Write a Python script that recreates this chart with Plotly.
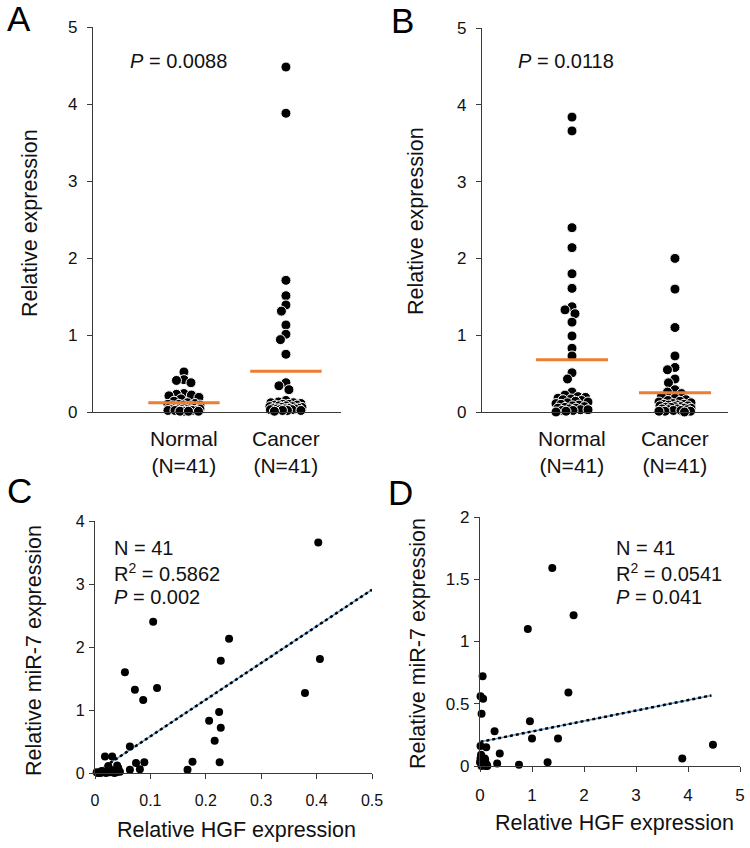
import math
import plotly.graph_objects as go

W, H = 750, 848

# ---------------- data ----------------
groups = ["Normal", "Cancer"]
group_label = "(N=41)"

A_normal = [0.52, 0.42, 0.41, 0.38, 0.24, 0.23, 0.22, 0.21, 0.19, 0.17, 0.14, 0.12, 0.11, 0.10,
            0.10, 0.09, 0.09, 0.08, 0.08, 0.07, 0.07, 0.06, 0.06, 0.05, 0.05, 0.05, 0.04, 0.04,
            0.04, 0.03, 0.03, 0.03, 0.03, 0.02, 0.02, 0.02, 0.02, 0.01, 0.01, 0.01, 0.01]
A_cancer = [4.48, 3.88, 1.71, 1.51, 1.39, 1.31, 1.13, 1.01, 0.94, 0.75, 0.38, 0.34, 0.29,
            0.15, 0.13, 0.12, 0.12, 0.11, 0.10, 0.10, 0.09, 0.09, 0.08, 0.08, 0.07, 0.07,
            0.06, 0.06, 0.05, 0.05, 0.05, 0.04, 0.04, 0.04, 0.03, 0.03, 0.03, 0.02, 0.02,
            0.02, 0.01]
A_means = [0.12, 0.53]
A_p = "0.0088"

B_normal = [3.84, 3.66, 2.40, 2.14, 1.80, 1.61, 1.37, 1.33, 1.28, 1.17, 0.99, 0.83, 0.73,
            0.51, 0.43, 0.26, 0.22, 0.20, 0.19, 0.18, 0.17, 0.16, 0.15, 0.14, 0.13, 0.12,
            0.11, 0.10, 0.09, 0.08, 0.07, 0.06, 0.05, 0.05, 0.04, 0.03, 0.03, 0.02, 0.02,
            0.01, 0.00]
B_cancer = [2.00, 1.60, 1.10, 0.73, 0.58, 0.55, 0.43, 0.38, 0.29, 0.26, 0.24, 0.20, 0.18,
            0.16, 0.15, 0.14, 0.13, 0.12, 0.11, 0.10, 0.10, 0.09, 0.09, 0.08, 0.08, 0.07,
            0.07, 0.06, 0.06, 0.05, 0.05, 0.04, 0.04, 0.03, 0.03, 0.02, 0.02, 0.01, 0.01,
            0.01, 0.00]
B_means = [0.68, 0.25]
B_p = "0.0118"

C_x = [0.403, 0.406, 0.379, 0.242, 0.227, 0.105, 0.054, 0.072, 0.112, 0.087, 0.224, 0.206,
       0.227, 0.216, 0.225, 0.176, 0.167, 0.063, 0.063, 0.074, 0.089, 0.081, 0.018, 0.031,
       0.024, 0.042, 0.033, 0.003, 0.009, 0.012, 0.039, 0.027, 0.005, 0.015, 0.020, 0.036,
       0.045, 0.028, 0.010, 0.040, 0.035]
C_y = [3.66, 1.81, 1.27, 2.13, 1.78, 2.40, 1.60, 1.32, 1.35, 1.16, 0.97, 0.83, 0.72, 0.51,
       0.17, 0.18, 0.05, 0.42, 0.05, 0.16, 0.17, 0.06, 0.26, 0.26, 0.11, 0.08, 0.03, 0.01,
       0.01, 0.03, 0.01, 0.01, 0.00, 0.02, 0.00, 0.04, 0.02, 0.05, 0.00, 0.12, 0.00]
C_trend_x = [0.0, 0.5]
C_trend_y = [0.0, 2.91]
C_stats = ["N = 41", "R<sup>2</sup> = 0.5862", "<i>P</i> = 0.002"]

D_x = [1.39, 1.80, 0.92, 1.70, 0.05, 0.01, 0.06, 0.03, 0.96, 0.28, 1.00, 1.50, 4.48, 3.89,
       0.01, 0.12, 0.38, 0.33, 0.75, 1.30, 0.01, 0.10, 0.03, 0.13, 0.06, 0.02, 0.04, 0.08,
       0.11, 0.05, 0.07, 0.00, 0.09, 0.14, 0.02, 0.06, 0.04, 0.10, 0.03, 0.08, 0.12]
D_y = [1.59, 1.21, 1.10, 0.59, 0.72, 0.56, 0.54, 0.42, 0.36, 0.28, 0.22, 0.22, 0.17, 0.06,
       0.16, 0.15, 0.10, 0.02, 0.01, 0.03, 0.06, 0.03, 0.02, 0.01, 0.05, 0.04, 0.07, 0.02,
       0.00, 0.01, 0.04, 0.03, 0.06, 0.00, 0.09, 0.02, 0.01, 0.05, 0.00, 0.03, 0.01]
D_trend_x = [0.01, 4.45]
D_trend_y = [0.194, 0.567]
D_stats = ["N = 41", "R<sup>2</sup> = 0.0541", "<i>P</i> = 0.041"]

# ---------------- layout (pixels) ----------------
FONT = "Liberation Sans, Arial, sans-serif"
AXC = "#3a3a3a"
TXT = "#111111"
ORANGE = "#ED7D31"
BLUE = "#5B9BD5"

def fx(px):
    return px / W

def fy(py):
    return 1 - py / H

panels = {
    "A": dict(l=93, r=341, t=27, b=412, xr=[0.108, 2.54], yr=[0, 5], tf=17),
    "B": dict(l=482, r=728, t=28, b=412, xr=[0.126, 2.515], yr=[0, 5], tf=17),
    "C": dict(l=95, r=372, t=521, b=773, xr=[0, 0.5], yr=[0, 4], tf=16),
    "D": dict(l=480, r=740, t=517, b=766, xr=[0, 5], yr=[0, 2], tf=17),
}


def swarm(values, center, ppx, ppy, dmin, maxw):
    """Compact beeswarm: offset (px) that keeps points apart, limited to +-maxw."""
    placed = []
    out = []
    steps = [i * 0.5 for i in range(int(-maxw * 2), int(maxw * 2) + 1)]
    for v in values:
        y = v * ppy
        best, best_key = 0.0, None
        for c in steps:
            if placed:
                d = min(math.hypot(c - px, y - py) for (px, py) in placed)
            else:
                d = dmin
            key = (-min(d, dmin), abs(c), c)
            if best_key is None or key < best_key:
                best_key, best = key, c
        placed.append((best, y))
        out.append(center + best / ppx)
    return out


fig = go.Figure()
annotations = []

axis_ids = {"A": ("x", "y"), "B": ("x2", "y2"), "C": ("x3", "y3"), "D": ("x4", "y4")}

for key, p in panels.items():
    n = {"A": "", "B": "2", "C": "3", "D": "4"}[key]
    tfont = dict(size=p["tf"], color=TXT, family=FONT)
    xa = dict(domain=[fx(p["l"]), fx(p["r"])], range=p["xr"], anchor="y" + n,
              showline=True, linecolor=AXC, linewidth=1.2, showgrid=False, zeroline=False,
              automargin=False, tickfont=tfont, fixedrange=True)
    ya = dict(domain=[fy(p["b"]), fy(p["t"])], range=p["yr"], anchor="x" + n,
              showline=True, linecolor=AXC, linewidth=1.2, showgrid=False, zeroline=False,
              automargin=False,
              ticks="outside", ticklen=5, tickcolor=AXC, tickwidth=1.2,
              tickfont=tfont, fixedrange=True)
    if key in ("A", "B"):
        xa.update(showticklabels=False, ticks="")
        ya.update(dtick=1, ticklabelstandoff=6)
    else:
        xa.update(ticks="outside", ticklen=5, tickcolor=AXC, tickwidth=1.2, ticklabelstandoff=8)
        if key == "C":
            xa.update(dtick=0.1)
            ya.update(dtick=1, ticklabelstandoff=1)
        else:
            xa.update(dtick=1)
            ya.update(dtick=0.5, ticklabelstandoff=1)
    fig.update_layout(**{"xaxis" + n: xa, "yaxis" + n: ya})

# ---- swarm panels A, B ----
for key, normal, cancer, means, pval, ptxt_x in (
    ("A", A_normal, A_cancer, A_means, A_p, 128),
    ("B", B_normal, B_cancer, B_means, B_p, 516),
):
    p = panels[key]
    xr, yr = p["xr"], p["yr"]
    ppx = (p["r"] - p["l"]) / (xr[1] - xr[0])
    ppy = (p["b"] - p["t"]) / (yr[1] - yr[0])
    xref, yref = axis_ids[key]
    for gi, vals in enumerate((normal, cancer)):
        cx = gi + 1
        xs = swarm(vals, cx, ppx, ppy, 7.5, 16)
        fig.add_trace(go.Scatter(
            x=xs, y=vals, mode="markers", xaxis=xref, yaxis=yref, cliponaxis=False,
            marker=dict(size=10, color="black", line=dict(color="white", width=1)),
            showlegend=False, hoverinfo="skip"))
        fig.add_trace(go.Scatter(
            x=[cx - 0.35, cx + 0.35], y=[means[gi], means[gi]], mode="lines",
            xaxis=xref, yaxis=yref, line=dict(color=ORANGE, width=3),
            showlegend=False, hoverinfo="skip"))
        annotations.append(dict(
            x=cx, xref=xref, y=fy(452), yref="paper", text=groups[gi] + "<br>" + group_label,
            showarrow=False, font=dict(size=21, family=FONT, color=TXT),
            xanchor="center", yanchor="middle", align="center"))
    annotations.append(dict(
        x=fx(ptxt_x), y=fy(61), xref="paper", yref="paper", text="<i>P</i> = " + pval,
        showarrow=False, font=dict(size=20, family=FONT, color=TXT),
        xanchor="left", yanchor="middle"))

# ---- scatter panels C, D ----
for key, xs, ys, tx, ty, stats, sx in (
    ("C", C_x, C_y, C_trend_x, C_trend_y, C_stats, 112),
    ("D", D_x, D_y, D_trend_x, D_trend_y, D_stats, 614),
):
    xref, yref = axis_ids[key]
    fig.add_trace(go.Scatter(
        x=tx, y=ty, mode="lines", xaxis=xref, yaxis=yref,
        line=dict(color=BLUE, width=1.5), showlegend=False, hoverinfo="skip"))
    fig.add_trace(go.Scatter(
        x=tx, y=ty, mode="lines", xaxis=xref, yaxis=yref,
        line=dict(color="black", width=2.5, dash="dot"), showlegend=False, hoverinfo="skip"))
    fig.add_trace(go.Scatter(
        x=xs, y=ys, mode="markers", xaxis=xref, yaxis=yref, cliponaxis=False,
        marker=dict(size=8, color="black"), showlegend=False, hoverinfo="skip"))
    for i, s in enumerate(stats):
        annotations.append(dict(
            x=fx(sx), y=fy(548 + 24.5 * i), xref="paper", yref="paper", text=s,
            showarrow=False, font=dict(size=20, family=FONT, color=TXT),
            xanchor="left", yanchor="middle"))

# ---- axis titles ----
titles = [
    ("Relative expression", 30, 223, -90),
    ("Relative expression", 416, 221, -90),
    ("Relative miR-7 expression", 34, 651, -90),
    ("Relative miR-7 expression", 418, 644, -90),
    ("Relative HGF expression", 236, 830, 0),
    ("Relative HGF expression", 614, 823, 0),
]
for t, x, y, ang in titles:
    annotations.append(dict(
        x=fx(x), y=fy(y), xref="paper", yref="paper", text=t, textangle=ang,
        showarrow=False, font=dict(size=21.5, family=FONT, color=TXT),
        xanchor="center", yanchor="middle"))

# ---- panel letters ----
for t, x, y in (("A", 5, 19), ("B", 389, 20), ("C", 5, 490), ("D", 386, 492)):
    annotations.append(dict(
        x=fx(x), y=fy(y), xref="paper", yref="paper", text=t,
        showarrow=False, font=dict(size=35, family=FONT, color="black"),
        xanchor="left", yanchor="middle"))

fig.update_layout(
    width=W, height=H, margin=dict(l=0, r=0, t=0, b=0, autoexpand=False),
    paper_bgcolor="white", plot_bgcolor="white",
    annotations=annotations, showlegend=False,
    font=dict(family=FONT, color=TXT),
)

fig.write_html("out.html", config={"displayModeBar": False},
               post_script="document.body.style.margin='0';")
